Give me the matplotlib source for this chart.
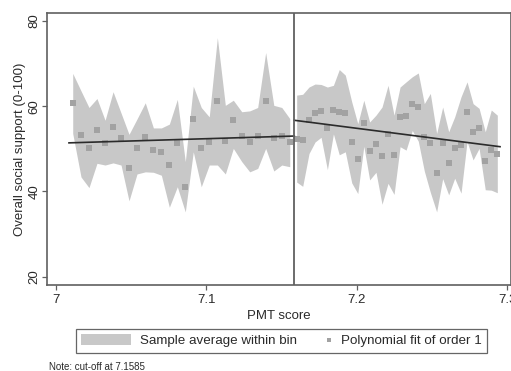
import numpy as np
import matplotlib
matplotlib.use("Agg")
import matplotlib.pyplot as plt
from matplotlib.lines import Line2D
from matplotlib.patches import Patch
from matplotlib.legend_handler import HandlerBase

plt.rcParams['font.family'] = ['Liberation Sans', 'DejaVu Sans']

# bin averages and bands, left of cut-off
left_x = [7.0113, 7.0168, 7.0221, 7.0274, 7.0328, 7.0381, 7.0434, 7.0487, 7.0540, 7.0595,
          7.0649, 7.0702, 7.0755, 7.0808, 7.0861, 7.0914, 7.0967, 7.1020, 7.1074, 7.1127,
          7.1180, 7.1236, 7.1289, 7.1342, 7.1395, 7.1449, 7.1502, 7.1555]
left_mean = [60.8, 53.2, 50.2, 54.4, 51.4, 55.2, 52.5, 45.5, 50.2, 52.8,
             49.8, 49.3, 46.1, 51.3, 41.1, 57.0, 50.2, 51.7, 61.2, 51.9,
             56.7, 53.1, 51.6, 53.0, 61.2, 52.5, 53.0, 51.5]
left_hi = [67.7, 63.6, 59.7, 61.8, 56.7, 63.4, 58.4, 53.4, 57.0, 60.8,
           54.9, 54.9, 55.8, 61.6, 47.0, 64.7, 59.7, 57.5, 76.1, 60.2,
           61.4, 58.7, 58.9, 59.7, 72.6, 60.2, 59.7, 57.1]
left_lo = [53.6, 43.4, 40.9, 46.6, 46.2, 46.7, 46.2, 37.8, 44.1, 44.6,
           44.5, 43.8, 36.3, 41.1, 35.2, 49.3, 41.1, 46.2, 46.2, 44.1,
           50.1, 47.0, 44.6, 45.4, 50.1, 44.8, 46.2, 45.8]

# right of cut-off
right_x = [7.1601, 7.1641, 7.1683, 7.1723, 7.1763, 7.1805, 7.1845, 7.1884, 7.1924, 7.1967,
           7.2007, 7.2047, 7.2086, 7.2128, 7.2168, 7.2208, 7.2248, 7.2288, 7.2328, 7.2369,
           7.2409, 7.2449, 7.2489, 7.2531, 7.2571, 7.2611, 7.2651, 7.2693, 7.2733, 7.2773,
           7.2813, 7.2854, 7.2894, 7.2934]
right_mean = [52.4, 52.0, 56.7, 58.4, 58.9, 54.8, 59.2, 58.6, 58.3, 51.5,
              47.7, 56.0, 49.5, 51.2, 48.4, 53.4, 48.6, 57.5, 57.7, 60.6,
              59.8, 52.7, 51.4, 44.4, 51.4, 46.6, 50.3, 50.9, 58.7, 54.0,
              54.8, 47.2, 49.7, 48.8]
right_hi = [62.6, 62.8, 64.5, 65.2, 65.1, 64.5, 64.9, 68.6, 67.3, 61.0,
            55.9, 61.4, 56.3, 57.9, 59.8, 64.9, 57.9, 64.5, 65.7, 66.9,
            67.8, 60.6, 63.0, 53.6, 59.8, 54.0, 57.5, 62.2, 65.7, 60.6,
            59.5, 54.0, 59.1, 57.9]
right_lo = [42.2, 41.2, 48.9, 51.6, 52.7, 45.1, 53.5, 48.6, 49.3, 42.0,
            39.5, 50.6, 42.7, 44.5, 37.0, 41.9, 39.3, 50.5, 49.7, 54.3,
            51.8, 44.8, 39.8, 35.2, 43.0, 39.2, 43.1, 39.6, 51.7, 47.4,
            50.1, 40.4, 40.3, 39.7]

# linear fits (end points)
fit_left_x = [7.0088, 7.1585]
fit_left_y = [51.4, 53.0]
fit_right_x = [7.1585, 7.2952]
fit_right_y = [56.7, 50.5]

cutoff = 7.1585

band_col = '#c8c8c8'
pt_col = '#a2a2a2'
frame_col = '#606060'
txt_col = '#2a2a2a'

fig = plt.figure(figsize=(5.11, 3.71), dpi=100)
ax = fig.add_axes([47 / 511, 86 / 371, 1 - 47 / 511, 272 / 371])

ax.fill_between(left_x, left_lo, left_hi, color=band_col, lw=0)
ax.fill_between(right_x, right_lo, right_hi, color=band_col, lw=0)
ax.plot(left_x, left_mean, 's', color=pt_col, ms=4.3, mew=0)
ax.plot(right_x, right_mean, 's', color=pt_col, ms=4.3, mew=0)
ax.plot(fit_left_x, fit_left_y, color='#2b2b2b', lw=1.2)
ax.plot(fit_right_x, fit_right_y, color='#2b2b2b', lw=1.2)
ax.axvline(cutoff, color=frame_col, lw=1.3)

ax.set_xlim(6.9942, 7.3025)
ax.set_ylim(18.05, 81.87)
ax.set_xticks([7, 7.1, 7.2, 7.3])
ax.set_xticklabels(['7', '7.1', '7.2', '7.3'])
ax.set_yticks([20, 40, 60, 80])
ax.set_yticklabels(['20', '40', '60', '80'], rotation=90, va='center')
ax.tick_params(length=3.6, width=0.9, color=frame_col, labelsize=9.5,
               labelcolor=txt_col, pad=3)
ax.tick_params(axis='y', pad=1)
for s in ax.spines.values():
    s.set_color(frame_col)
    s.set_linewidth(1.2)
ax.set_xlabel('PMT score', fontsize=9.5, color=txt_col, labelpad=2.5)
ax.set_ylabel('Overall social support (0-100)', fontsize=9.5, color=txt_col, labelpad=2)


class HandlerSquareRight(HandlerBase):
    def create_artists(self, legend, orig_handle, xdescent, ydescent,
                       width, height, fontsize, trans):
        m = Line2D([width - xdescent - 2.2], [height / 2 - ydescent], marker='s',
                   ls='none', color=pt_col, ms=2.8, mew=0, transform=trans)
        return [m]


sq = Line2D([], [], marker='s', ls='none', color=pt_col)
handles = [Patch(facecolor=band_col, edgecolor='none'), sq]
labels = ['Sample average within bin', 'Polynomial fit of order 1']
leg = fig.legend(handles, labels, loc='center', bbox_to_anchor=(281.5 / 511, 1 - 340.5 / 371),
                 ncol=2, fontsize=9.6, frameon=True, fancybox=False, edgecolor='#404040',
                 handlelength=3.7, handleheight=0.95, handletextpad=0.7, columnspacing=-1.1,
                 borderpad=0.4, handler_map={sq: HandlerSquareRight()})
leg.get_frame().set_linewidth(0.9)
for t in leg.get_texts():
    t.set_color(txt_col)

fig.text(49 / 511, 1 - 366.5 / 371, 'Note: cut-off at 7.1585', fontsize=7,
         color=txt_col, va='center', ha='left')

fig.savefig('out.png', dpi=100)
